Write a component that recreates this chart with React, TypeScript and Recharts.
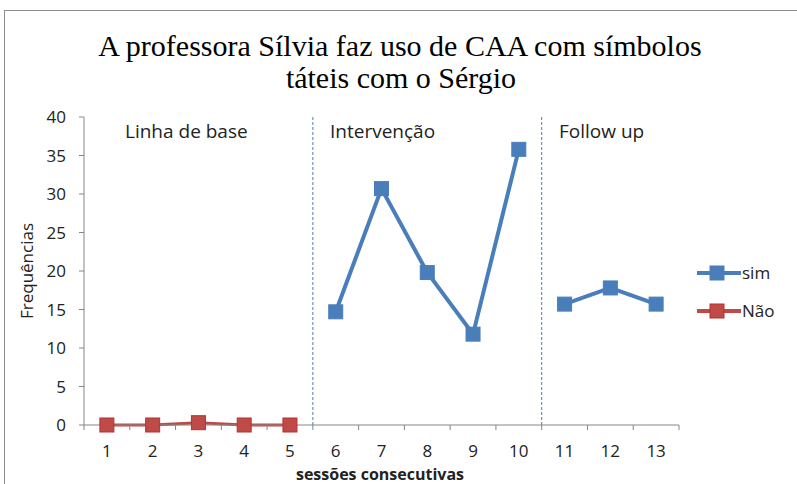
import React from 'react';
import { LineChart, Line, XAxis, YAxis, ReferenceLine } from 'recharts';

// sessions and values
const sessions = [1, 2, 3, 4, 5, 6, 7, 8, 9, 10, 11, 12, 13];
const naoBaseline = [0, 0, 0.3, 0, 0]; // sessions 1-5
const simIntervention = [14.7, 30.7, 19.8, 11.8, 35.8]; // sessions 6-10
const simFollowUp = [15.7, 17.8, 15.7]; // sessions 11-13
const yTicks = [0, 5, 10, 15, 20, 25, 30, 35, 40];
const boundaryTicks = [0.5, 1.5, 2.5, 3.5, 4.5, 5.5, 6.5, 7.5, 8.5, 9.5, 10.5, 11.5, 12.5, 13.5];
const phaseDividers = [5.5, 10.5];

const BLUE = '#4a7ebb';
const RED = '#be4b48';
const RED_EDGE = '#b8312f';
const FONT = '"Open Sans", "Noto Sans", sans-serif';

const rows = sessions.map((s, i) => ({
  session: s,
  nao: i < 5 ? naoBaseline[i] : null,
  simInt: i >= 5 && i < 10 ? simIntervention[i - 5] : null,
  simFol: i >= 10 ? simFollowUp[i - 10] : null,
}));

const squareDot = (fill: string, stroke: string) => (props: any) => {
  const { cx, cy, index } = props;
  if (cx == null || cy == null || props.value == null) return <g key={index} />;
  return <rect key={index} x={cx - 7} y={cy - 7} width={14} height={14} fill={fill} stroke={stroke} strokeWidth={1} />;
};

const legendItems = [
  { label: 'sim', color: BLUE, fill: BLUE, edge: BLUE },
  { label: 'Não', color: RED, fill: RED, edge: RED_EDGE },
];

export default function App() {
  return (
    <div style={{ position: 'absolute', left: 0, top: 0, width: 797, height: 484, background: '#fff' }}>
      <LineChart width={797} height={484} data={rows} margin={{ top: 117, right: 118, left: 0, bottom: 0 }}>
        <XAxis
          dataKey="session"
          type="number"
          domain={[0.5, 13.5]}
          ticks={boundaryTicks}
          tickFormatter={() => ''}
          tickSize={5}
          height={5}
          stroke="#868686"
        />
        <XAxis
          xAxisId="lab"
          dataKey="session"
          type="number"
          domain={[0.5, 13.5]}
          ticks={sessions}
          axisLine={false}
          tickLine={false}
          tickSize={0}
          tickMargin={15}
          height={54}
          tick={{ fontSize: 17, fill: '#222', fontFamily: FONT }}
        />
        <YAxis
          domain={[0, 40]}
          ticks={yTicks}
          width={84}
          tickSize={5}
          tickMargin={13}
          stroke="#868686"
          tick={{ fontSize: 17, fill: '#222', fontFamily: FONT }}
        />
        {phaseDividers.map((d) => (
          <ReferenceLine key={d} x={d} stroke={BLUE} strokeWidth={1} strokeDasharray="3 2" segment={[{ x: d, y: 0 }, { x: d, y: 39.4 }]} />
        ))}
        <Line dataKey="simInt" name="sim" stroke={BLUE} strokeWidth={4} dot={squareDot(BLUE, BLUE)} isAnimationActive={false} />
        <Line dataKey="simFol" name="sim" stroke={BLUE} strokeWidth={4} dot={squareDot(BLUE, BLUE)} isAnimationActive={false} />
        <Line dataKey="nao" name="Não" stroke={RED} strokeWidth={3} dot={squareDot(RED, RED_EDGE)} isAnimationActive={false} />
      </LineChart>
      <svg width={797} height={484} style={{ position: 'absolute', left: 0, top: 0, pointerEvents: 'none' }}>
        <rect x={4.5} y={10.5} width={800} height={480} fill="none" stroke="#8c8c8c" strokeWidth={1} />
        <g fontFamily='"Liberation Serif", "DejaVu Serif", serif' fontSize={30} fill="#000" textAnchor="middle">
          <text x={400} y={56}>A professora Sílvia faz uso de CAA com símbolos</text>
          <text x={401} y={88}>táteis com o Sérgio</text>
        </g>
        <g fontFamily={FONT} fontSize={19} fill="#222">
          <text x={125} y={138}>Linha de base</text>
          <text x={330} y={138}>Intervenção</text>
          <text x={559} y={138}>Follow up</text>
        </g>
        <text x={33} y={271} transform="rotate(-90 33 271)" textAnchor="middle" fontFamily={FONT} fontSize={17} fill="#222">Frequências</text>
        <text x={380} y={480} textAnchor="middle" fontFamily={FONT} fontSize={16} fontWeight="bold" fill="#222">sessões consecutivas</text>
        {legendItems.map((it, i) => (
          <g key={it.label} transform={`translate(697, ${273 + i * 38})`}>
            <line x1={0} y1={0} x2={44} y2={0} stroke={it.color} strokeWidth={4} />
            <rect x={13} y={-7} width={14} height={14} fill={it.fill} stroke={it.edge} />
            <text x={45} y={6} fontFamily={FONT} fontSize={17} fill="#222">{it.label}</text>
          </g>
        ))}
      </svg>
    </div>
  );
}
